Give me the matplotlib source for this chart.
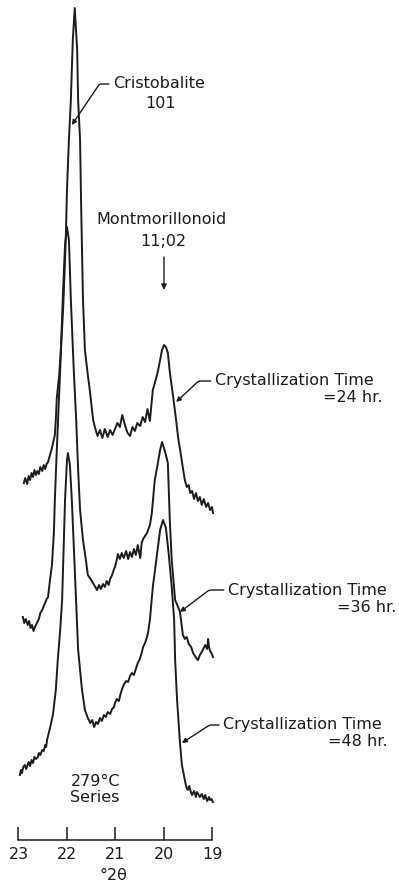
import matplotlib
matplotlib.use("Agg")
import matplotlib.pyplot as plt

# =========================
# DATA
# =========================
# 2-theta in degrees, intensity in arbitrary chart units (stacking offset included)
two_theta_24 = [22.89, 22.86, 22.82, 22.79, 22.76, 22.73, 22.70, 22.67, 22.64, 22.61,
                22.58, 22.55, 22.51, 22.48, 22.45, 22.42, 22.39,
                22.35, 22.31, 22.25, 22.23, 22.21, 22.16, 22.12, 22.08, 22.04, 22.02,
                22.00, 21.96, 21.92, 21.88, 21.84, 21.79, 21.77, 21.73, 21.71, 21.69,
                21.67, 21.63, 21.57, 21.53, 21.46,
                21.42, 21.37, 21.32, 21.27, 21.22, 21.16, 21.11, 21.06, 21.01, 20.96,
                20.91, 20.86, 20.80, 20.75, 20.70, 20.65, 20.60, 20.55, 20.49, 20.44,
                20.39, 20.34, 20.29,
                20.25, 20.23, 20.16, 20.12, 20.08, 20.04, 20.00, 19.96, 19.92, 19.88,
                19.81, 19.75, 19.71, 19.65, 19.61,
                19.57, 19.53, 19.49, 19.46, 19.42, 19.38, 19.34, 19.30, 19.26, 19.22,
                19.18, 19.13, 19.09, 19.05, 19.01, 18.99]
intensity_24 = [402, 407, 401, 409, 405, 412, 408, 415, 410, 414,
                411, 418, 414, 420, 416, 421, 423,
                430, 437, 450, 465, 487, 510, 540, 575, 625, 655,
                695, 745, 785, 845, 877, 835, 785, 745, 685, 635,
                585, 535, 510, 495, 465,
                457, 449, 455, 447, 456, 448, 455, 450, 456, 462,
                458, 470, 459, 452, 449, 458, 454, 462, 459, 468,
                463, 476, 464,
                485, 495, 507, 515, 525, 535, 540, 538, 532, 513,
                488, 465, 448, 430, 417,
                405, 398, 400, 392, 394, 386, 392, 384, 388, 380,
                386, 378, 382, 375, 378, 372]

two_theta_36 = [22.91, 22.88, 22.85, 22.81, 22.78, 22.75, 22.72, 22.69, 22.66, 22.62,
                22.58, 22.55, 22.51, 22.47, 22.45, 22.42, 22.39,
                22.35, 22.31, 22.27, 22.25, 22.21, 22.14, 22.08, 22.04, 22.00, 21.96,
                21.92, 21.86, 21.81, 21.77, 21.73, 21.67, 21.61, 21.57, 21.50, 21.44,
                21.38, 21.34, 21.30, 21.26, 21.22, 21.18, 21.14, 21.11, 21.07, 21.03,
                21.01, 20.97, 20.95, 20.91, 20.87, 20.83, 20.78, 20.74, 20.70, 20.66,
                20.62, 20.58, 20.54, 20.51, 20.49, 20.46, 20.43, 20.39, 20.35, 20.32,
                20.29, 20.25, 20.19, 20.14, 20.08, 20.04, 20.00, 19.96, 19.92, 19.88,
                19.84, 19.77, 19.71, 19.67,
                19.61, 19.57, 19.53, 19.49, 19.44, 19.40, 19.36, 19.32, 19.30, 19.26,
                19.22, 19.18, 19.15, 19.11, 19.09, 19.07, 19.05, 19.02, 18.99]
intensity_36 = [268, 262, 266, 260, 264, 257, 260, 254, 258, 262,
                266, 272, 275, 280, 282, 286, 288,
                305, 320, 352, 385, 435, 515, 595, 640, 658, 645,
                585, 515, 465, 415, 375, 345, 325, 310, 305, 300,
                295, 300, 296, 301, 298, 304, 300, 306, 310, 316,
                318, 326, 331, 326, 332, 327, 334, 326, 333, 328,
                336, 330, 340, 332, 327, 342, 346, 349, 352, 356,
                360, 372, 405, 418, 435, 443, 437, 430, 422, 365,
                325, 285, 278, 273,
                250, 246, 248, 241, 238, 232, 229, 226, 225, 230,
                233, 237, 240, 236, 246, 238, 234, 232, 228]

two_theta_48 = [22.97, 22.95, 22.93, 22.90, 22.87, 22.84, 22.82, 22.79, 22.76, 22.73,
                22.70, 22.67, 22.64, 22.60, 22.58, 22.55, 22.51, 22.48, 22.45, 22.43,
                22.41,
                22.35, 22.29, 22.23, 22.19, 22.14, 22.10, 22.04, 22.00, 21.98, 21.94,
                21.90, 21.83, 21.77, 21.69, 21.63,
                21.57, 21.52, 21.48, 21.44, 21.40, 21.36, 21.32, 21.28, 21.24, 21.20,
                21.16, 21.11, 21.07, 21.03, 21.01, 20.97, 20.93, 20.89, 20.85, 20.82,
                20.78, 20.74, 20.70, 20.66, 20.62, 20.58, 20.54, 20.50, 20.46, 20.43,
                20.39, 20.35, 20.33,
                20.29, 20.23, 20.14, 20.08, 20.02, 19.96, 19.90, 19.84, 19.79, 19.77,
                19.73, 19.67, 19.63,
                19.57, 19.54, 19.51, 19.48, 19.44, 19.42, 19.38, 19.34, 19.32, 19.28,
                19.26, 19.22, 19.18, 19.15, 19.11, 19.07, 19.05, 19.02, 18.99]
intensity_48 = [110, 115, 112, 118, 120, 116, 119, 123, 119, 125,
                122, 128, 126, 128, 132, 130, 135, 134, 140, 138,
                145,
                157, 170, 195, 225, 255, 285, 385, 425, 432, 420,
                385, 305, 235, 195, 175,
                167, 162, 165, 158, 163, 161, 167, 164, 170, 168,
                173, 171, 176, 178, 182, 186, 184, 192, 198, 201,
                204, 203, 209, 212, 210, 216, 222, 226, 232, 238,
                242, 248, 252,
                265, 298, 332, 355, 365, 357, 330, 298, 265, 225,
                185, 142, 120,
                105, 98, 95, 99, 92, 90, 94, 88, 93, 90,
                88, 91, 86, 90, 84, 88, 85, 86, 83]

tick_vals = [23, 22, 21, 20, 19]
tick_labels = ["23", "22", "21", "20", "19"]

# =========================
# FIGURE
# =========================
ink = "#1c1c1c"
fs = 11.5

fig = plt.figure(figsize=(3.99, 8.85), dpi=100)
ax = fig.add_axes([0, 0, 1, 1])
ax.set_xlim(23.381, 15.154)
ax.set_ylim(0, 885)

for tt, inten in [(two_theta_24, intensity_24),
                  (two_theta_36, intensity_36),
                  (two_theta_48, intensity_48)]:
    ax.plot(tt, inten, color=ink, lw=1.4, solid_joinstyle="round")

# scale bar along the bottom
for side in ["top", "left", "right"]:
    ax.spines[side].set_visible(False)
ax.spines["bottom"].set_position(("data", 45))
ax.spines["bottom"].set_bounds(19, 23)
ax.spines["bottom"].set_color(ink)
ax.spines["bottom"].set_linewidth(1.1)
ax.set_xticks(tick_vals)
ax.set_xticklabels(tick_labels)
ax.set_yticks([])
ax.tick_params(axis="x", direction="in", length=9.5, width=1.1, color=ink,
               labelcolor=ink, labelsize=fs, pad=5)
ax.text(21.05, 10, "°2θ", ha="center", va="center", fontsize=fs, color=ink)

# =========================
# LABELS
# =========================
def leader(label, tip, text_pos, angle):
    ax.annotate(label, xy=tip, xytext=text_pos, ha="left", va="center",
                fontsize=fs, color=ink,
                arrowprops=dict(arrowstyle="-|>", color=ink, lw=1.0,
                                mutation_scale=7, shrinkA=1, shrinkB=0,
                                connectionstyle=f"angle,angleA=0,angleB={angle},rad=2"))

leader("Cristobalite", (21.90, 760), (21.05, 801), 56)
ax.text(20.08, 782, "101", ha="center", va="center", fontsize=fs, color=ink)

ax.text(20.06, 665, "Montmorillonoid", ha="center", va="center", fontsize=fs, color=ink)
ax.text(20.02, 643, "11;02", ha="center", va="center", fontsize=fs, color=ink)
ax.annotate("", xy=(20.0, 595), xytext=(20.0, 628),
            arrowprops=dict(arrowstyle="-|>", color=ink, lw=1.0, mutation_scale=8,
                            shrinkA=0, shrinkB=0))

leader("Crystallization Time", (19.75, 483), (18.95, 504), 43)
ax.text(15.49, 487, "=24 hr.", ha="right", va="center", fontsize=fs, color=ink)

leader("Crystallization Time", (19.67, 273), (18.68, 295), 37)
ax.text(15.20, 278, "=36 hr.", ha="right", va="center", fontsize=fs, color=ink)

leader("Crystallization Time", (19.63, 142), (18.78, 160), 33)
ax.text(15.38, 143, "=48 hr.", ha="right", va="center", fontsize=fs, color=ink)

ax.text(21.40, 103, "279°C", ha="center", va="center", fontsize=fs, color=ink)
ax.text(21.42, 87, "Series", ha="center", va="center", fontsize=fs, color=ink)

fig.savefig("out.png", dpi=100)
